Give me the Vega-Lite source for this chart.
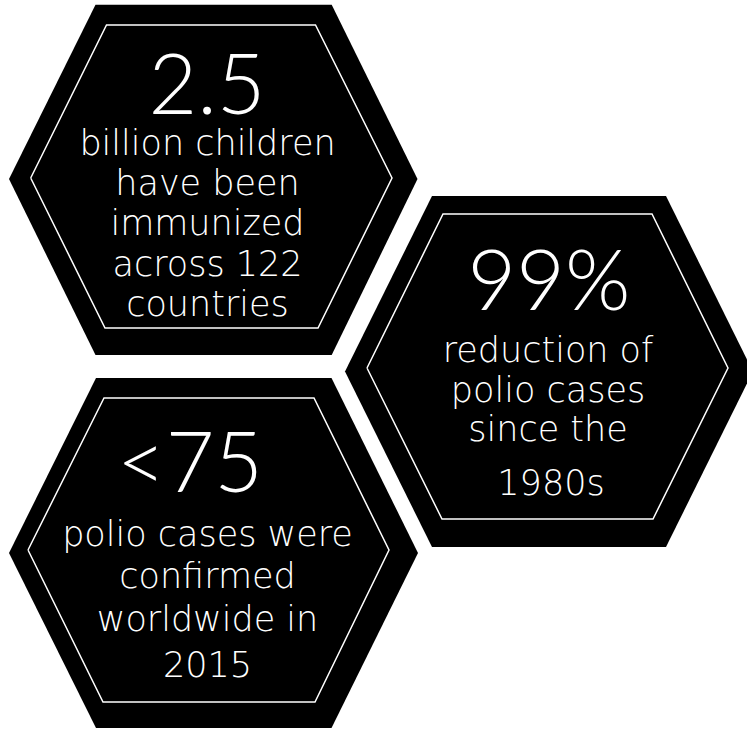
{
  "$schema": "https://vega.github.io/schema/vega-lite/v6.json",
  "width": 747,
  "height": 731,
  "padding": 0,
  "autosize": {"type": "none"},
  "background": "white",
  "config": {"view": {"stroke": null}},
  "datasets": {
    "hexes": [
      {"hex": "A", "x": 9, "top": 179, "bottom": 179},
      {"hex": "A", "x": 95.5, "top": 4.7, "bottom": 355},
      {"hex": "A", "x": 331.7, "top": 4.7, "bottom": 355},
      {"hex": "A", "x": 417.5, "top": 179, "bottom": 179},
      {"hex": "B", "x": 345, "top": 371.5, "bottom": 371.5},
      {"hex": "B", "x": 432, "top": 196, "bottom": 547},
      {"hex": "B", "x": 666, "top": 196, "bottom": 547},
      {"hex": "B", "x": 753, "top": 371.5, "bottom": 371.5},
      {"hex": "C", "x": 9, "top": 553, "bottom": 553},
      {"hex": "C", "x": 96, "top": 378, "bottom": 728},
      {"hex": "C", "x": 331.5, "top": 378, "bottom": 728},
      {"hex": "C", "x": 418, "top": 553, "bottom": 553}
    ],
    "outlines": [
      {"hex": "A", "i": 0, "x": 30.7, "y": 178},
      {"hex": "A", "i": 1, "x": 106.5, "y": 25},
      {"hex": "A", "i": 2, "x": 315.5, "y": 25},
      {"hex": "A", "i": 3, "x": 392, "y": 178},
      {"hex": "A", "i": 4, "x": 318, "y": 328},
      {"hex": "A", "i": 5, "x": 105, "y": 328},
      {"hex": "A", "i": 6, "x": 30.7, "y": 178},
      {"hex": "B", "i": 0, "x": 367, "y": 368},
      {"hex": "B", "i": 1, "x": 443, "y": 214},
      {"hex": "B", "i": 2, "x": 652, "y": 214},
      {"hex": "B", "i": 3, "x": 728, "y": 368},
      {"hex": "B", "i": 4, "x": 653, "y": 519},
      {"hex": "B", "i": 5, "x": 442, "y": 519},
      {"hex": "B", "i": 6, "x": 367, "y": 368},
      {"hex": "C", "i": 0, "x": 28, "y": 550},
      {"hex": "C", "i": 1, "x": 104, "y": 398},
      {"hex": "C", "i": 2, "x": 314, "y": 398},
      {"hex": "C", "i": 3, "x": 389, "y": 550},
      {"hex": "C", "i": 4, "x": 315, "y": 702},
      {"hex": "C", "i": 5, "x": 103, "y": 702},
      {"hex": "C", "i": 6, "x": 28, "y": 550}
    ],
    "headings": [
      {"hex": "A", "text": "2.5", "x": 207, "y": 114},
      {"hex": "B", "text": "99%", "x": 549, "y": 310},
      {"hex": "C", "text": "<75", "x": 190, "y": 492}
    ],
    "lines": [
      {"hex": "A", "text": "billion children", "x": 207.5, "y": 155},
      {"hex": "A", "text": "have been", "x": 207.5, "y": 195},
      {"hex": "A", "text": "immunized", "x": 207.5, "y": 235},
      {"hex": "A", "text": "across 122", "x": 207.5, "y": 276},
      {"hex": "A", "text": "countries", "x": 207.5, "y": 316},
      {"hex": "B", "text": "reduction of", "x": 548, "y": 362},
      {"hex": "B", "text": "polio cases", "x": 548, "y": 402},
      {"hex": "B", "text": "since the", "x": 548, "y": 441},
      {"hex": "B", "text": "1980s", "x": 551, "y": 495},
      {"hex": "C", "text": "polio cases were", "x": 207.5, "y": 546},
      {"hex": "C", "text": "confirmed", "x": 207.5, "y": 588},
      {"hex": "C", "text": "worldwide in", "x": 207.5, "y": 631},
      {"hex": "C", "text": "2015", "x": 207.5, "y": 677}
    ]
  },
  "layer": [
    {
      "data": {"name": "hexes"},
      "mark": {"type": "area", "color": "black", "interpolate": "linear", "clip": true},
      "encoding": {
        "x": {"field": "x", "type": "quantitative", "scale": {"domain": [0, 747], "nice": false, "zero": false}, "axis": null},
        "y": {"field": "top", "type": "quantitative", "scale": {"domain": [0, 731], "nice": false, "zero": false, "reverse": true}, "axis": null},
        "y2": {"field": "bottom"},
        "detail": {"field": "hex"}
      }
    },
    {
      "data": {"name": "outlines"},
      "mark": {"type": "line", "color": "white", "strokeWidth": 1.5},
      "encoding": {
        "x": {"field": "x", "type": "quantitative"},
        "y": {"field": "y", "type": "quantitative"},
        "detail": {"field": "hex"},
        "order": {"field": "i", "type": "quantitative"}
      }
    },
    {
      "data": {"name": "headings"},
      "mark": {"type": "text", "color": "white", "font": "Lato", "fontWeight": 300, "fontSize": 84, "align": "center", "baseline": "alphabetic"},
      "encoding": {
        "x": {"field": "x", "type": "quantitative"},
        "y": {"field": "y", "type": "quantitative"},
        "text": {"field": "text"}
      }
    },
    {
      "data": {"name": "lines"},
      "mark": {"type": "text", "color": "white", "font": "DejaVu Sans", "fontWeight": 200, "fontSize": 35, "align": "center", "baseline": "alphabetic"},
      "encoding": {
        "x": {"field": "x", "type": "quantitative"},
        "y": {"field": "y", "type": "quantitative"},
        "text": {"field": "text"}
      }
    }
  ]
}
